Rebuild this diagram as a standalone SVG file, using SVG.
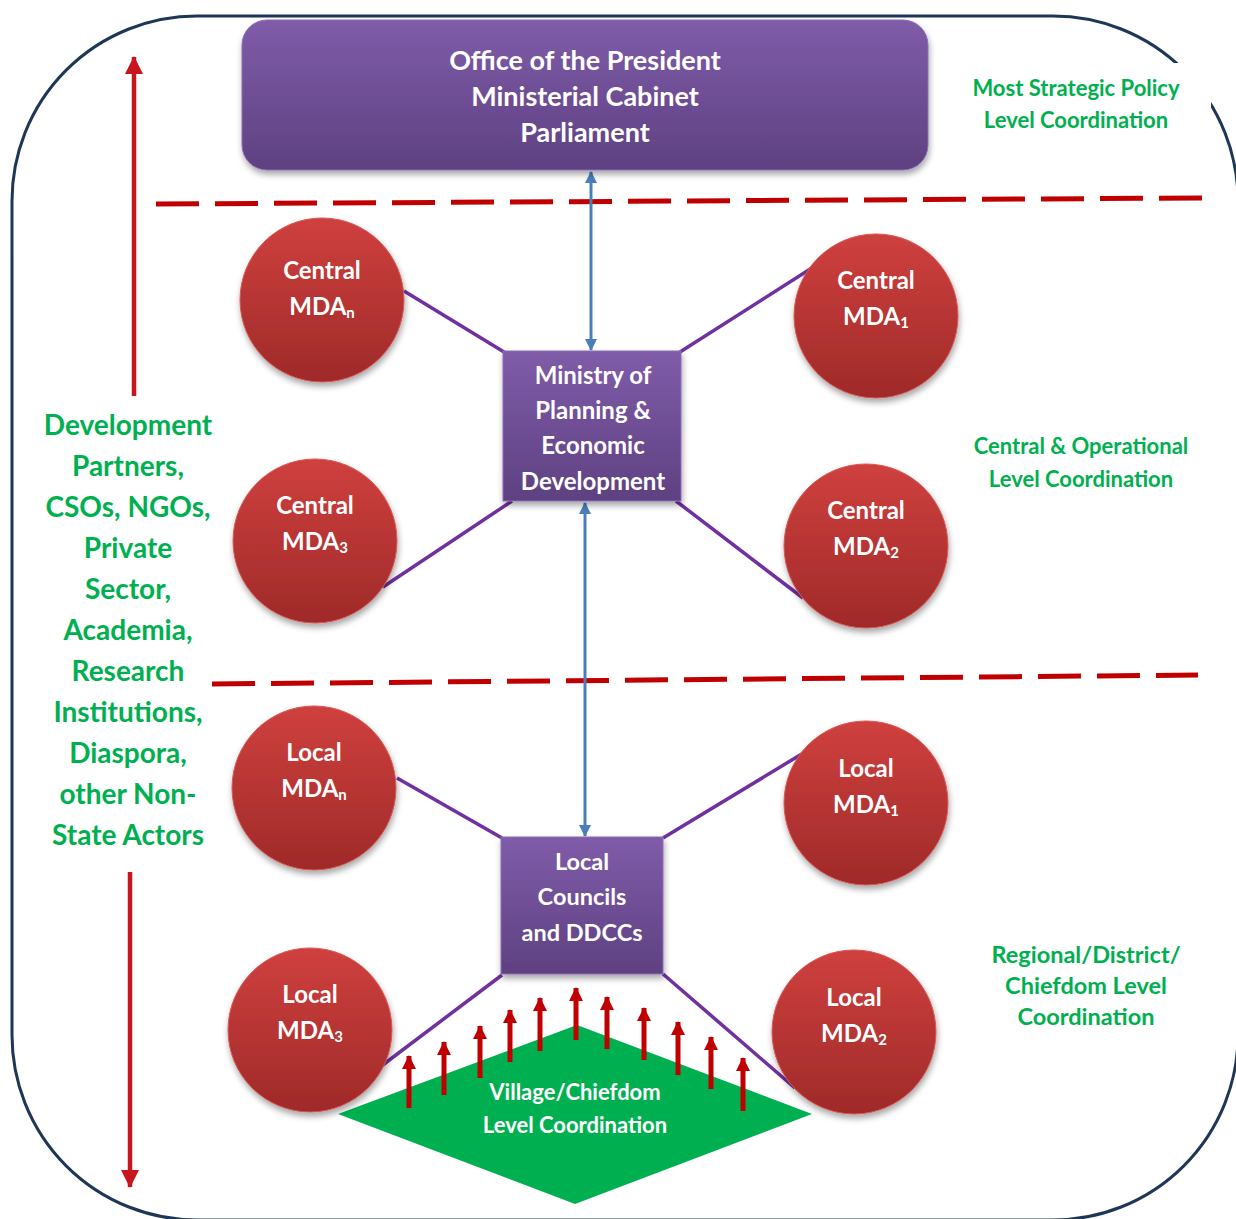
<svg xmlns="http://www.w3.org/2000/svg" width="1236" height="1219" viewBox="0 0 1236 1219">
<defs>
  <linearGradient id="gPurple" x1="0" y1="0" x2="0" y2="1">
    <stop offset="0" stop-color="#7F5CA9"/>
    <stop offset="1" stop-color="#5E4181"/>
  </linearGradient>
  <linearGradient id="gRed" x1="0" y1="0" x2="0" y2="1">
    <stop offset="0" stop-color="#CF403E"/>
    <stop offset="1" stop-color="#9F2A29"/>
  </linearGradient>
  <filter id="shadow" x="-20%" y="-20%" width="140%" height="150%">
    <feDropShadow dx="1" dy="4" stdDeviation="3" flood-color="#000" flood-opacity="0.35"/>
  </filter>
  <marker id="blueHead" viewBox="0 0 12 12" refX="11" refY="6" markerWidth="12" markerHeight="12" markerUnits="userSpaceOnUse" orient="auto-start-reverse">
    <path d="M0,0 L12,6 L0,12 Z" fill="#4A7EBB"/>
  </marker>
  <marker id="redHead" viewBox="0 0 14 14" refX="13" refY="7" markerWidth="14" markerHeight="14" markerUnits="userSpaceOnUse" orient="auto">
    <path d="M0,0 L14,7 L0,14 Z" fill="#C00000"/>
  </marker>
  <marker id="bigRedHead" viewBox="0 0 18 18" refX="17" refY="9" markerWidth="18" markerHeight="18" markerUnits="userSpaceOnUse" orient="auto">
    <path d="M0,0 L18,9 L0,18 Z" fill="#C8161D"/>
  </marker>
  <style>
    .box { fill: url(#gPurple); stroke: #8C6DB8; stroke-width: 1; filter: url(#shadow); }
    .circ { fill: url(#gRed); stroke: #D65A57; stroke-width: 1; filter: url(#shadow); }
    .wt { font-family: Lato, "Liberation Sans", sans-serif; font-weight: bold; fill: #FFFFFF; text-anchor: middle; }
    .gt { font-family: Lato, "Liberation Sans", sans-serif; font-weight: bold; fill: #00B050; text-anchor: middle; }
    .purp { stroke: #7030A0; stroke-width: 3.5; fill: none; }
    .blue { stroke: #4A7EBB; stroke-width: 3; fill: none; marker-start: url(#blueHead); marker-end: url(#blueHead); }
    .dash { stroke: #C00000; stroke-width: 5; stroke-dasharray: 43 16; fill: none; }
    .up { stroke: #C00000; stroke-width: 5; marker-end: url(#redHead); }
    .big { stroke: #C8161D; stroke-width: 4.5; marker-end: url(#bigRedHead); }
    .c1 { font-size: 24px; }
  </style>
</defs>
<rect width="1236" height="1219" fill="#FFFFFF"/>

<!-- outer frame -->
<rect x="12" y="16" width="1226" height="1204" rx="185" ry="185" fill="none" stroke="#1F3756" stroke-width="3"/>
<rect x="965" y="63" width="246" height="80" fill="#FFFFFF"/>

<!-- dashed level separators -->
<line class="dash" x1="156" y1="204" x2="1202" y2="198"/>
<line class="dash" x1="212" y1="684" x2="1198" y2="675"/>

<!-- green diamond -->
<g id="village">
  <polygon points="338,1114 577,1025 812,1114 575,1204" fill="#00B050"/>
  <text class="wt" x="575" y="1100" font-size="22">Village/Chiefdom</text>
  <text class="wt" x="575" y="1133" font-size="22">Level Coordination</text>
</g>

<!-- connectors -->
<g id="connectors">
  <line class="purp" x1="404" y1="291" x2="504" y2="352"/>
  <line class="purp" x1="815" y1="266" x2="680" y2="352"/>
  <line class="purp" x1="383" y1="587" x2="512" y2="501"/>
  <line class="purp" x1="676" y1="501" x2="803" y2="598"/>
  <line class="purp" x1="397" y1="778" x2="502" y2="838"/>
  <line class="purp" x1="805" y1="752" x2="663" y2="838"/>
  <line class="purp" x1="380" y1="1067" x2="502" y2="975"/>
  <line class="purp" x1="663" y1="974" x2="795" y2="1088"/>
  <line class="blue" x1="591" y1="172" x2="591" y2="350"/>
  <line class="blue" x1="585" y1="503" x2="585" y2="836"/>
  <line class="big" x1="134" y1="396" x2="134" y2="57"/>
  <line class="big" x1="130" y1="872" x2="130" y2="1187"/>
  <line class="up" x1="409" y1="1108" x2="409" y2="1056"/>
  <line class="up" x1="444" y1="1095" x2="444" y2="1042"/>
  <line class="up" x1="480" y1="1078" x2="480" y2="1026"/>
  <line class="up" x1="510" y1="1062" x2="510" y2="1010"/>
  <line class="up" x1="540" y1="1051" x2="540" y2="998"/>
  <line class="up" x1="576" y1="1040" x2="576" y2="988"/>
  <line class="up" x1="607" y1="1049" x2="607" y2="997"/>
  <line class="up" x1="644" y1="1060" x2="644" y2="1008"/>
  <line class="up" x1="678" y1="1075" x2="678" y2="1022"/>
  <line class="up" x1="711" y1="1089" x2="711" y2="1037"/>
  <line class="up" x1="743" y1="1111" x2="743" y2="1058"/>
</g>

<!-- top box -->
<g id="president">
  <rect class="box" x="242" y="20" width="686" height="150" rx="25" ry="25"/>
  <text class="wt" x="585" y="70" font-size="27">Office of the President</text>
  <text class="wt" x="585" y="106" font-size="27">Ministerial Cabinet</text>
  <text class="wt" x="585" y="142" font-size="27">Parliament</text>
</g>

<!-- ministry -->
<g id="ministry">
  <rect class="box" x="503" y="351" width="178" height="150"/>
  <text class="wt" x="593" y="384" font-size="24">Ministry of</text>
  <text class="wt" x="593" y="419" font-size="24">Planning &amp;</text>
  <text class="wt" x="593" y="454" font-size="24">Economic</text>
  <text class="wt" x="593" y="490" font-size="24">Development</text>
</g>

<!-- local councils -->
<g id="local-councils">
  <rect class="box" x="501" y="837" width="162" height="137"/>
  <text class="wt" x="582" y="870" font-size="23.5">Local</text>
  <text class="wt" x="582" y="905" font-size="23.5">Councils</text>
  <text class="wt" x="582" y="941" font-size="23.5">and DDCCs</text>
</g>

<!-- circles -->
<g id="central-mda-n">
  <circle class="circ" cx="322" cy="300" r="82"/>
  <text class="wt c1" x="322" y="279">Central</text>
  <text class="wt c1" x="322" y="315">MDA<tspan font-size="15" dy="3">n</tspan></text>
</g>
<g id="central-mda-1">
  <circle class="circ" cx="876" cy="316" r="82"/>
  <text class="wt c1" x="876" y="289">Central</text>
  <text class="wt c1" x="876" y="325">MDA<tspan font-size="15" dy="3">1</tspan></text>
</g>
<g id="central-mda-3">
  <circle class="circ" cx="315" cy="541" r="82"/>
  <text class="wt c1" x="315" y="514">Central</text>
  <text class="wt c1" x="315" y="550">MDA<tspan font-size="15" dy="3">3</tspan></text>
</g>
<g id="central-mda-2">
  <circle class="circ" cx="866" cy="546" r="82"/>
  <text class="wt c1" x="866" y="519">Central</text>
  <text class="wt c1" x="866" y="555">MDA<tspan font-size="15" dy="3">2</tspan></text>
</g>
<g id="local-mda-n">
  <circle class="circ" cx="314" cy="788" r="82"/>
  <text class="wt c1" x="314" y="761">Local</text>
  <text class="wt c1" x="314" y="797">MDA<tspan font-size="15" dy="3">n</tspan></text>
</g>
<g id="local-mda-1">
  <circle class="circ" cx="866" cy="803" r="82"/>
  <text class="wt c1" x="866" y="777">Local</text>
  <text class="wt c1" x="866" y="813">MDA<tspan font-size="15" dy="3">1</tspan></text>
</g>
<g id="local-mda-3">
  <circle class="circ" cx="310" cy="1030" r="82"/>
  <text class="wt c1" x="310" y="1003">Local</text>
  <text class="wt c1" x="310" y="1039">MDA<tspan font-size="15" dy="3">3</tspan></text>
</g>
<g id="local-mda-2">
  <circle class="circ" cx="854" cy="1032" r="82"/>
  <text class="wt c1" x="854" y="1006">Local</text>
  <text class="wt c1" x="854" y="1042">MDA<tspan font-size="15" dy="3">2</tspan></text>
</g>

<!-- left label -->
<g id="non-state-actors">
  <text class="gt" x="128" y="435" font-size="28">Development</text>
  <text class="gt" x="128" y="476" font-size="28">Partners,</text>
  <text class="gt" x="128" y="517" font-size="28">CSOs, NGOs,</text>
  <text class="gt" x="128" y="558" font-size="28">Private</text>
  <text class="gt" x="128" y="599" font-size="28">Sector,</text>
  <text class="gt" x="128" y="640" font-size="28">Academia,</text>
  <text class="gt" x="128" y="681" font-size="28">Research</text>
  <text class="gt" x="128" y="722" font-size="28">Institutions,</text>
  <text class="gt" x="128" y="763" font-size="28">Diaspora,</text>
  <text class="gt" x="128" y="804" font-size="28">other Non-</text>
  <text class="gt" x="128" y="845" font-size="28">State Actors</text>
</g>

<!-- right labels -->
<g id="label-strategic">
  <text class="gt" x="1076" y="96" font-size="22">Most Strategic Policy</text>
  <text class="gt" x="1076" y="128" font-size="22">Level Coordination</text>
</g>
<g id="label-central">
  <text class="gt" x="1081" y="454" font-size="22">Central &amp; Operational</text>
  <text class="gt" x="1081" y="487" font-size="22">Level Coordination</text>
</g>
<g id="label-regional">
  <text class="gt" x="1086" y="963" font-size="23.5">Regional/District/</text>
  <text class="gt" x="1086" y="994" font-size="23.5">Chiefdom Level</text>
  <text class="gt" x="1086" y="1025" font-size="23.5">Coordination</text>
</g>
</svg>
